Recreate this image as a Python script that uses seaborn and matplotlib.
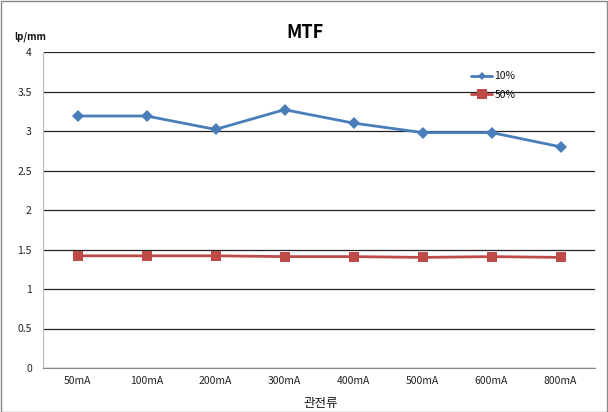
import matplotlib
matplotlib.use("Agg")
import matplotlib.pyplot as plt
import seaborn as sns
import pandas as pd
from matplotlib.lines import Line2D

categories = ["50mA", "100mA", "200mA", "300mA", "400mA", "500mA", "600mA", "800mA"]
mtf10 = [3.19, 3.19, 3.02, 3.27, 3.10, 2.98, 2.98, 2.80]
mtf50 = [1.42, 1.42, 1.42, 1.41, 1.41, 1.40, 1.41, 1.40]
series_names = ["10%", "50%"]

sns.set_style("white")
plt.rcParams['font.family'] = ['Noto Sans CJK KR', 'DejaVu Sans']
plt.rcParams['text.color'] = '#111111'
plt.rcParams['xtick.color'] = '#222222'
plt.rcParams['ytick.color'] = '#222222'

df = pd.DataFrame({
    "x": list(range(len(categories))) * 2,
    "y": mtf10 + mtf50,
    "s": [series_names[0]] * len(categories) + [series_names[1]] * len(categories),
})

fig = plt.figure(figsize=(6.08, 4.12), dpi=100)
ax = fig.add_axes([43 / 608, 1 - 368 / 412, 552 / 608, 316 / 412])

palette = {"10%": "#4A7EBB", "50%": "#BE4B48"}
sns.lineplot(data=df, x="x", y="y", hue="s", style="s", palette=palette,
             markers={"10%": "D", "50%": "s"}, dashes=False, linewidth=2.0,
             markersize=6.5, markeredgewidth=0, ax=ax, legend=False)

ax.set_xlim(-0.5, len(categories) - 0.5)
ax.set_ylim(0, 4)
ax.set_yticks([0, 0.5, 1, 1.5, 2, 2.5, 3, 3.5, 4])
ax.set_yticklabels(["0", "0.5", "1", "1.5", "2", "2.5", "3", "3.5", "4"], fontsize=7.5)
ax.set_xticks(range(len(categories)))
ax.set_xticklabels(categories, fontsize=7.5)
ax.tick_params(axis='x', length=0, pad=6)
ax.tick_params(axis='y', length=0, pad=8)
ax.grid(axis='y', color='#222222', linewidth=0.9)
ax.set_axisbelow(True)
for sp in ["top", "right"]:
    ax.spines[sp].set_visible(False)
ax.spines["left"].set_color("#BBBBBB")
ax.spines["bottom"].set_color("#888888")
ax.set_xlabel("")
ax.set_ylabel("")

fig.text(321 / 608, 1 - 403 / 412, "관전류", fontsize=9, ha='center', va='center')
fig.text(30 / 608, 1 - 37 / 412, "lp/mm", fontsize=7, fontweight='bold', ha='center', va='center')
fig.text(305 / 608, 1 - 32 / 412, "MTF", fontsize=13, fontweight='bold', ha='center', va='center',
         color='black')

handles = [Line2D([], [], color=palette["10%"], marker="D", markersize=4.5, linewidth=2.0, markeredgewidth=0),
           Line2D([], [], color=palette["50%"], marker="s", markersize=6.5, linewidth=2.0, markeredgewidth=0)]
ax.legend(handles, series_names, loc='upper left', bbox_to_anchor=((462 - 43) / 552, (368 - 62) / 316),
          frameon=False, fontsize=7.5, handlelength=2.0, handletextpad=0.2, labelspacing=0.8)

fig.add_artist(plt.Rectangle((0.5 / 608, 0.5 / 412), 1 - 1.5 / 608, 1 - 1.5 / 412, transform=fig.transFigure,
                             fill=False, edgecolor='#888888', linewidth=1))

fig.savefig("out.png", dpi=100)
